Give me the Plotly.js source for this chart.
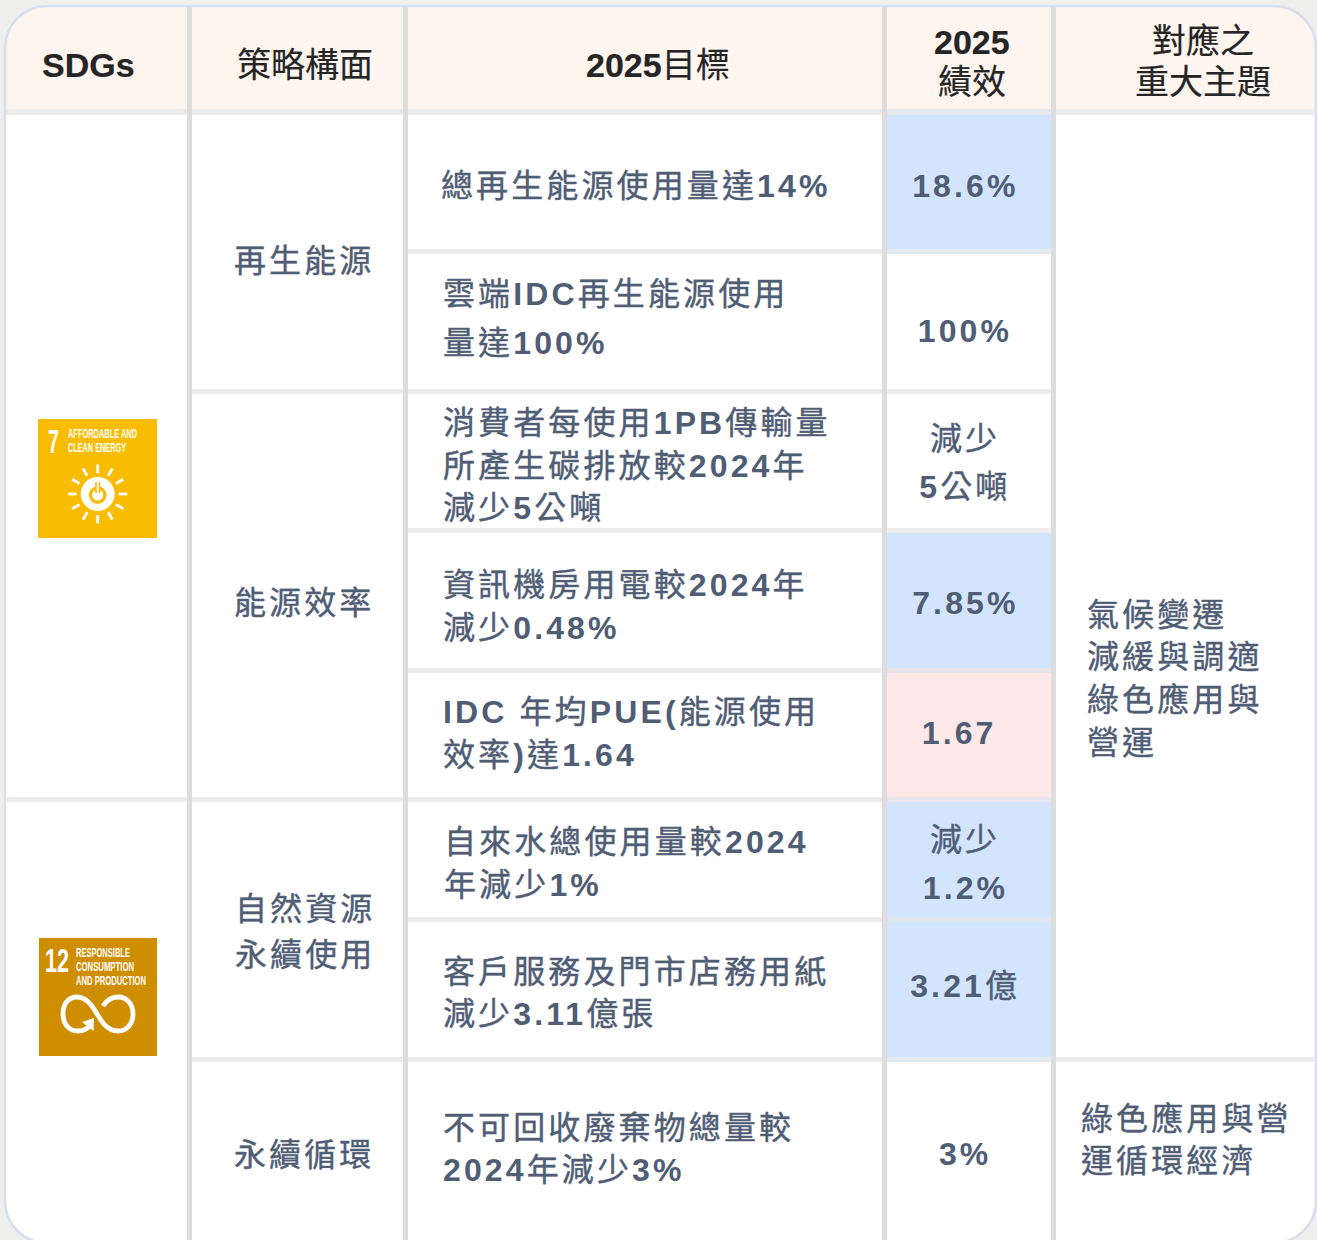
<!DOCTYPE html>
<html lang="zh-Hant">
<head>
<meta charset="utf-8">
<script src="https://cdn.plot.ly/plotly-3.0.1.min.js"></script>
<style>html,body{margin:0;padding:0;background:#eff0ed;overflow:hidden}</style>
</head>
<body>
<div id="chart" style="width:1317px;height:1240px"></div>
<script>
// ---------- table content ----------
const headers = ["<b>SDGs</b>", "策略構面", "<b>2025</b>目標", "<b>2025</b>\n績效", "對應之\n重大主題"];
const strategies = ["再生能源", "能源效率", "自然資源\n永續使用", "永續循環"];
const targets = [
  "總再生能源使用量達14%",
  "雲端IDC再生能源使用\n量達100%",
  "消費者每使用1PB傳輸量\n所產生碳排放較2024年\n減少5公噸",
  "資訊機房用電較2024年\n減少0.48%",
  "IDC 年均PUE(能源使用\n效率)達1.64",
  "自來水總使用量較2024\n年減少1%",
  "客戶服務及門市店務用紙\n減少3.11億張",
  "不可回收廢棄物總量較\n2024年減少3%"
];
const results = ["18.6%", "100%", "減少\n5公噸", "7.85%", "1.67", "減少\n1.2%", "3.21億", "3%"];
const resultStatus = ["up", "", "", "up", "miss", "up", "up", ""];
const topics = ["氣候變遷\n減緩與調適\n綠色應用與\n營運", "綠色應用與營\n運循環經濟"];
const sdg7Label = ["AFFORDABLE AND", "CLEAN ENERGY"];
const sdg12Label = ["RESPONSIBLE", "CONSUMPTION", "AND PRODUCTION"];

// ---------- layout geometry (separate from the content) ----------
const W = 1317, H = 1240;
const colGaps = [187, 403, 882, 1051];
const gapW = 5;
const headerBottom = 109, headerGapBottom = 115;
const rowGaps = [249, 389, 528, 668, 797, 917, 1057];
const rowGapH = 5;
const rowGapFrom = [408, 192, 408, 408, 7, 408, 192];
const rowGapTo   = [1051, 1051, 1051, 1051, 1051, 1051, 1315];
const rowGapTint = ['#e4e9f0', null, null, '#e6e4e6', '#e8e6ea', '#dfe5ec', '#e4e9f0'];
const C = {L:5, T:6, R:1316, B:1243, r:42};
const strategyX = [233.5, 233.5, 234.5, 233.5];
const strategyY = [[260.5], [602.5], [908.5, 954.5], [1154.5]];
const targetX = [441, 443, 443, 443, 443, 444, 443, 443];
const targetY = [[186], [294, 343], [423, 466, 508], [585, 628], [712, 755], [842, 885], [972, 1014], [1128, 1170]];
const resultX = [965, 965, 965, 965, 959, 965, 965, 965];
const resultY = [[186], [331], [439, 487], [603], [733], [840, 888], [986], [1154]];
const topicX = [1087, 1081];
const topicY = [[615, 657, 700, 743], [1119, 1161]];
const headerX = [88.5, 305, 657.5, 971.5, 1203];
const headerY = [[65], [65], [65], [42, 82], [41, 82]];

const SANS = '"Liberation Sans","Noto Sans CJK TC",sans-serif';
const SLATE = '#4f5d75', INK = '#252525';
const BG = '#eff0ed', HEAD = '#fef5ef', BLUE = '#d3e5fd', PINK = '#ffe8e8';
const LINE_V = '#dddddd', LINE_H = '#ececec', EDGE = '#d6dfee';
const GOLD = '#f9bc00', OCHRE = '#cf8d00';

const boldLatin = s => s.replace(/[\x21-\x7e]+/g, m => '<b>' + m + '</b>');

const annotations = [];
const spacedIdx = [], headIdx = [], squeezed = [];
function label(text, x, y, opts) {
  opts = opts || {};
  if (opts.spaced) spacedIdx.push(annotations.length);
  if (opts.head) headIdx.push(annotations.length);
  if (opts.fit) squeezed.push([annotations.length, opts.fit]);
  annotations.push({
    xref:'x', yref:'y', x:x, y:y, text:text, showarrow:false,
    xanchor:opts.anchor || 'left', yanchor:'middle', align:opts.anchor || 'left',
    borderpad:0, borderwidth:0,
    font:{family:SANS, size:opts.size || 32, color:opts.color || SLATE}
  });
}
function block(str, xs, ys, anchor) {
  str.split('\n').forEach((ln, i) => label(boldLatin(ln), xs, ys[i], {anchor:anchor, spaced:true}));
}
headers.forEach((h, c) => h.split('\n').forEach((ln, i) =>
  label(ln, headerX[c], headerY[c][i], {anchor:'center', size:34, color:INK, head:true})));
strategies.forEach((s, i) => block(s, strategyX[i], strategyY[i], 'left'));
targets.forEach((s, i) => block(s, targetX[i], targetY[i], 'left'));
results.forEach((s, i) => block(s, resultX[i], resultY[i], 'center'));
topics.forEach((s, i) => block(s, topicX[i], topicY[i], 'left'));

// SDG tile captions
label('<b>7</b>', 48, 441, {size:34, color:'#fff', fit:11});
label('<b>12</b>', 45, 960, {size:33, color:'#fff', fit:24});
const fit7 = [69, 58], fit12 = [54, 58, 70];
sdg7Label.forEach((s, i) => label('<b>' + s + '</b>', 68, [434, 448][i], {size:12, color:'#fff', fit:fit7[i]}));
sdg12Label.forEach((s, i) => label('<b>' + s + '</b>', 76, [953, 967, 981][i], {size:12, color:'#fff', fit:fit12[i]}));

// ---------- shapes ----------
const shapes = [];
const rect = (x0, y0, x1, y1, fill) => shapes.push({type:'rect', xref:'x', yref:'y', x0, y0, x1, y1,
  fillcolor:fill, line:{width:0}, layer:'below'});
const path = (d, fill, lineColor, lineW) => shapes.push({type:'path', xref:'x', yref:'y', path:d,
  fillcolor:fill || 'rgba(0,0,0,0)', line:{width:lineW || 0, color:lineColor || 'rgba(0,0,0,0)'}, layer:'below'});
const kr = C.r * 0.448;
const cardD = `M ${C.L+C.r} ${C.T} L ${C.R-C.r} ${C.T} C ${C.R-kr} ${C.T} ${C.R} ${C.T+kr} ${C.R} ${C.T+C.r} `
  + `L ${C.R} ${C.B-C.r} C ${C.R} ${C.B-kr} ${C.R-kr} ${C.B} ${C.R-C.r} ${C.B} L ${C.L+C.r} ${C.B} `
  + `C ${C.L+kr} ${C.B} ${C.L} ${C.B-kr} ${C.L} ${C.B-C.r} L ${C.L} ${C.T+C.r} C ${C.L} ${C.T+kr} ${C.L+kr} ${C.T} ${C.L+C.r} ${C.T} Z`;
path(cardD, '#ffffff');
const headD = `M ${C.L+C.r} ${C.T} L ${C.R-C.r} ${C.T} C ${C.R-kr} ${C.T} ${C.R} ${C.T+kr} ${C.R} ${C.T+C.r} `
  + `L ${C.R} ${headerBottom} L ${C.L} ${headerBottom} L ${C.L} ${C.T+C.r} C ${C.L} ${C.T+kr} ${C.L+kr} ${C.T} ${C.L+C.r} ${C.T} Z`;
path(headD, HEAD);
rect(C.L, headerBottom, C.R, headerGapBottom, LINE_H);

const rowTop = [headerGapBottom, ...rowGaps.map(y => y + rowGapH)];
const rowBot = [...rowGaps, H];
rowGaps.forEach((y, i) => rect(rowGapFrom[i], y, rowGapTo[i], y+rowGapH, LINE_H));
resultStatus.forEach((st, i) => {
  if (st) rect(colGaps[2]+gapW, rowTop[i], colGaps[3], rowBot[i], st === 'up' ? BLUE : PINK);
});
rowGapTint.forEach((c, i) => { if (c) rect(colGaps[2]+gapW, rowGaps[i], colGaps[3], rowGaps[i]+rowGapH, c); });
rect(colGaps[2]+gapW, headerBottom, colGaps[3], headerGapBottom, '#e4e9f0');
colGaps.forEach(x => rect(x, C.T, x+gapW, H, LINE_V));
path(cardD, null, EDGE, 2.5);

// SDG 7 tile
rect(38, 419, 157, 538, GOLD);
const sx = 97.7, sy = 494;
for (let a = 0; a < 12; a++) {
  const t = a * Math.PI / 6;
  shapes.push({type:'line', xref:'x', yref:'y', layer:'below',
    x0:sx+21*Math.sin(t), y0:sy-21*Math.cos(t), x1:sx+29.5*Math.sin(t), y1:sy-29.5*Math.cos(t),
    line:{color:'#ffffff', width:2.8}});
}
const circle = (cx, cy, r, fill, lc, lw) => shapes.push({type:'circle', xref:'x', yref:'y', layer:'below',
  x0:cx-r, y0:cy-r, x1:cx+r, y1:cy+r, fillcolor:fill, line:{width:lw||0, color:lc||fill}});
circle(sx, sy, 17, '#ffffff');
circle(sx, sy+1, 7.2, '#ffffff', GOLD, 3.2);
shapes.push({type:'line', xref:'x', yref:'y', layer:'below', x0:sx, y0:sy-12, x1:sx, y1:sy-1, line:{color:GOLD, width:5}});
shapes.push({type:'line', xref:'x', yref:'y', layer:'below', x0:sx, y0:sy-12, x1:sx, y1:sy-1, line:{color:'#ffffff', width:1.8}});

// SDG 12 tile
rect(39, 938, 157, 1056, OCHRE);
path('M 103 1006 C 107 1000 112 997 118 997 C 127 997 133 1004 133 1014 C 133 1024 127 1031 118 1031 '
   + 'C 106 1031 101 1020 97 1014 C 93 1007 87 997 77 997 C 68 997 63 1004 63 1014 C 63 1024 69 1031 78 1031 '
   + 'C 84 1031 88 1028 91 1025', null, '#ffffff', 4.8);
path('M 94 1018 L 93.5 1031 L 82 1022 Z', '#ffffff');

// spacing / weight set by CSS before plotting so Plotly measures the real text
const st = document.createElement('style');
const sel = a => a.map(i => `.annotation[data-index="${i}"] text`).join(',');
st.textContent = sel(spacedIdx) + `{letter-spacing:3.12px;stroke:${SLATE};stroke-width:.4px}`
  + sel(spacedIdx).replace(/ text/g, ' text tspan[style*="bold"]') + '{stroke:none}'
  + sel(headIdx) + `{stroke:${INK};stroke-width:.2px}`;
document.head.appendChild(st);

Plotly.newPlot('chart', [{type:'scatter', x:[0, W], y:[0, H], mode:'none', hoverinfo:'skip', showlegend:false}], {
  width:W, height:H, margin:{l:0, r:0, t:0, b:0, pad:0},
  paper_bgcolor:BG, plot_bgcolor:BG, showlegend:false,
  xaxis:{range:[0, W], visible:false, fixedrange:true},
  yaxis:{range:[H, 0], visible:false, fixedrange:true},
  shapes:shapes, annotations:annotations, hovermode:false
}, {displayModeBar:false, staticPlot:true}).then(() => {
  squeezed.forEach(([i, w]) => {
    const t = document.querySelector(`.annotation[data-index="${i}"] text`);
    if (t) { t.setAttribute('textLength', w); t.setAttribute('lengthAdjust', 'spacingAndGlyphs'); }
  });
});
</script>
</body>
</html>
